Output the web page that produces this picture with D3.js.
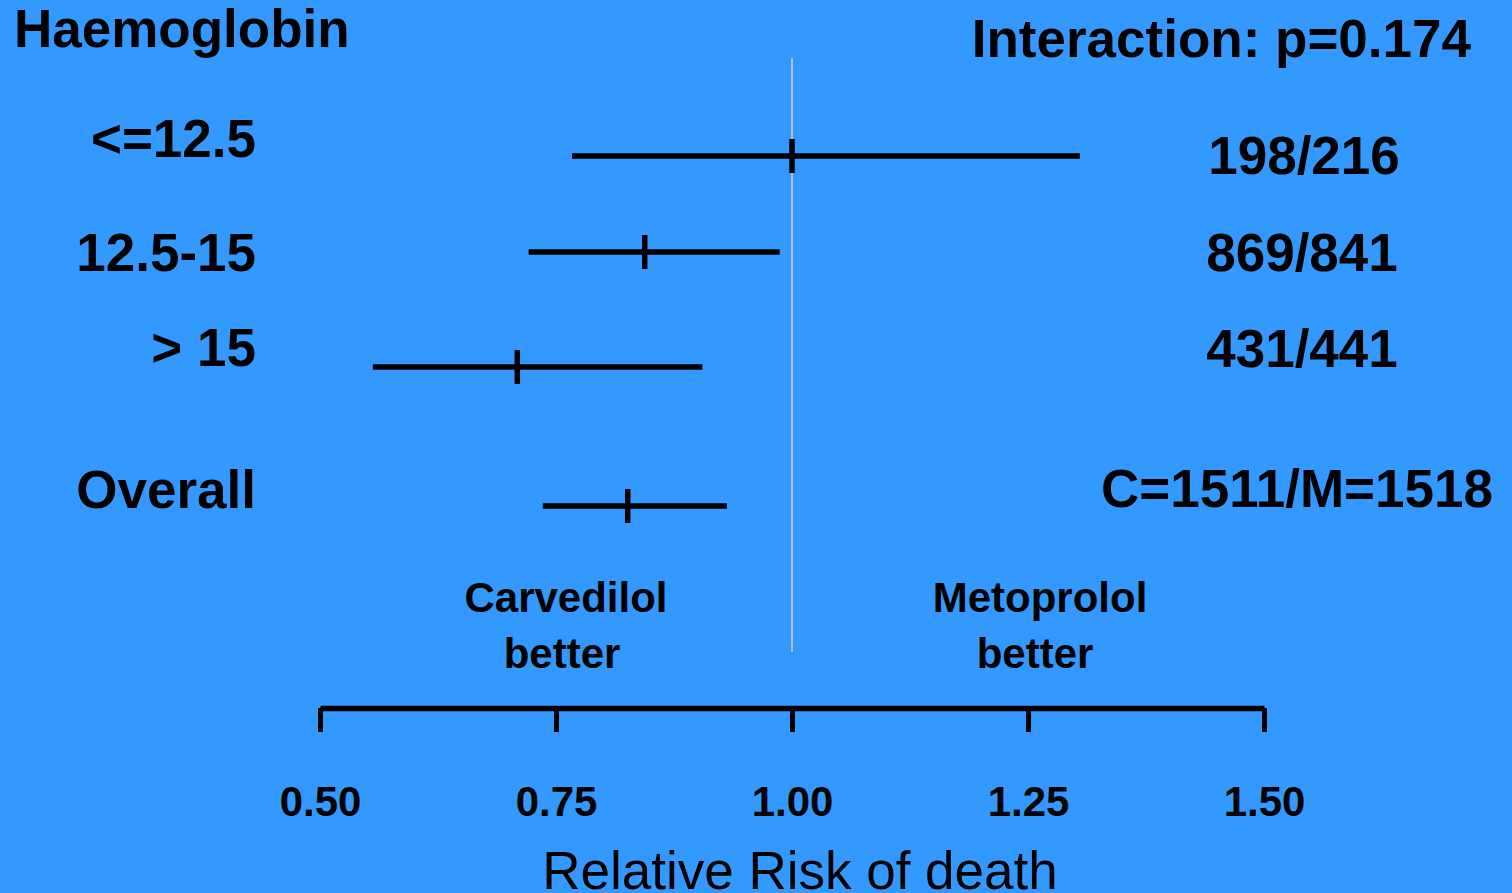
<!DOCTYPE html>
<html>
<head>
<meta charset="utf-8">
<script src="https://cdn.jsdelivr.net/npm/d3@7/dist/d3.min.js"></script>
<style>
  html, body { margin: 0; padding: 0; background: #3399FF; overflow: hidden; }
  svg { display: block; }
  text { font-family: "Liberation Sans", Arial, Helvetica, sans-serif; fill: #000; }
</style>
</head>
<body>
<svg id="chart" width="1512" height="893"></svg>
<script>
// ---- data ----
const categories = ["<=12.5", "12.5-15", "> 15", "Overall"];
const estimates  = [1.00, 0.844, 0.709, 0.826];
const lowerCI    = [0.767, 0.721, 0.556, 0.736];
const upperCI    = [1.305, 0.987, 0.905, 0.931];
const counts     = ["198/216", "869/841", "431/441", "C=1511/M=1518"];
const tickValues = [0.50, 0.75, 1.00, 1.25, 1.50];
const title      = "Haemoglobin";
const interaction = "Interaction: p=0.174";
const xTitle     = "Relative Risk of death";

// ---- layout ----
const W = 1512, H = 893;
const svg = d3.select("#chart");
svg.append("rect").attr("width", W).attr("height", H).attr("fill", "#3399FF");

const x = d3.scaleLinear().domain([0.5, 1.5]).range([320, 1264]);
const yLine  = d3.scaleOrdinal().domain(categories).range([156, 252, 367, 506]);
const yLabel = d3.scaleOrdinal().domain(categories).range([157, 271, 366, 508]);
const yCount = d3.scaleOrdinal().domain(categories).range([174, 271, 367, 507]);
const xCount = d3.scaleOrdinal().domain(categories).range([1304, 1302, 1302, 1297]);

// reference line at 1
svg.append("line")
  .attr("x1", x(1)).attr("x2", x(1))
  .attr("y1", 58).attr("y2", 652)
  .attr("stroke", "#b9bfc8").attr("stroke-width", 2);

const rows = categories.map((c, i) => ({c, est: estimates[i], lo: lowerCI[i], hi: upperCI[i], n: counts[i]}));

// CI lines
svg.selectAll("line.ci").data(rows).enter().append("line")
  .attr("class", "ci")
  .attr("x1", d => x(d.lo)).attr("x2", d => x(d.hi))
  .attr("y1", d => yLine(d.c)).attr("y2", d => yLine(d.c))
  .attr("stroke", "#000").attr("stroke-width", 5.5);

// point estimate ticks
svg.selectAll("line.est").data(rows).enter().append("line")
  .attr("class", "est")
  .attr("x1", d => x(d.est)).attr("x2", d => x(d.est))
  .attr("y1", d => yLine(d.c) - 17).attr("y2", d => yLine(d.c) + 17)
  .attr("stroke", "#000").attr("stroke-width", 5.5);

// category labels
svg.selectAll("text.cat").data(rows).enter().append("text")
  .attr("class", "cat")
  .attr("x", 256).attr("y", d => yLabel(d.c))
  .attr("text-anchor", "end")
  .attr("font-size", 53).attr("font-weight", "bold")
  .text(d => d.c);

// counts
svg.selectAll("text.cnt").data(rows).enter().append("text")
  .attr("class", "cnt")
  .attr("x", d => xCount(d.c)).attr("y", d => yCount(d.c))
  .attr("text-anchor", "middle")
  .attr("font-size", 53).attr("font-weight", "bold")
  .text(d => d.n);

// header texts
svg.append("text").attr("x", 14).attr("y", 47)
  .attr("font-size", 53).attr("font-weight", "bold").text(title);
svg.append("text").attr("x", 1471).attr("y", 57).attr("text-anchor", "end")
  .attr("font-size", 53).attr("font-weight", "bold").text(interaction);

// better labels
const better = [
  {lines: ["Carvedilol", "better"], cx: [566, 562]},
  {lines: ["Metoprolol", "better"], cx: [1040, 1035]}
];
better.forEach(b => {
  b.lines.forEach((t, i) => {
    svg.append("text").attr("x", b.cx[i]).attr("y", i === 0 ? 612 : 668)
      .attr("text-anchor", "middle")
      .attr("font-size", 42).attr("font-weight", "bold").text(t);
  });
});

// axis
const axis = d3.axisBottom(x).tickValues(tickValues)
  .tickFormat(d3.format(".2f")).tickSize(24).tickSizeOuter(0);
const gAxis = svg.append("g").attr("transform", "translate(0,708)").call(axis);
gAxis.select(".domain").attr("stroke", "#000").attr("stroke-width", 5.5);
gAxis.selectAll(".tick line").attr("stroke", "#000").attr("stroke-width", 5);
gAxis.selectAll(".tick text")
  .attr("y", 108).attr("dy", null)
  .attr("font-size", 42).attr("font-weight", "bold")
  .attr("font-family", "'Liberation Sans', Arial, sans-serif")
  .attr("fill", "#000");

svg.append("text").attr("x", 800).attr("y", 889).attr("text-anchor", "middle")
  .attr("font-size", 53).text(xTitle);
</script>
</body>
</html>
